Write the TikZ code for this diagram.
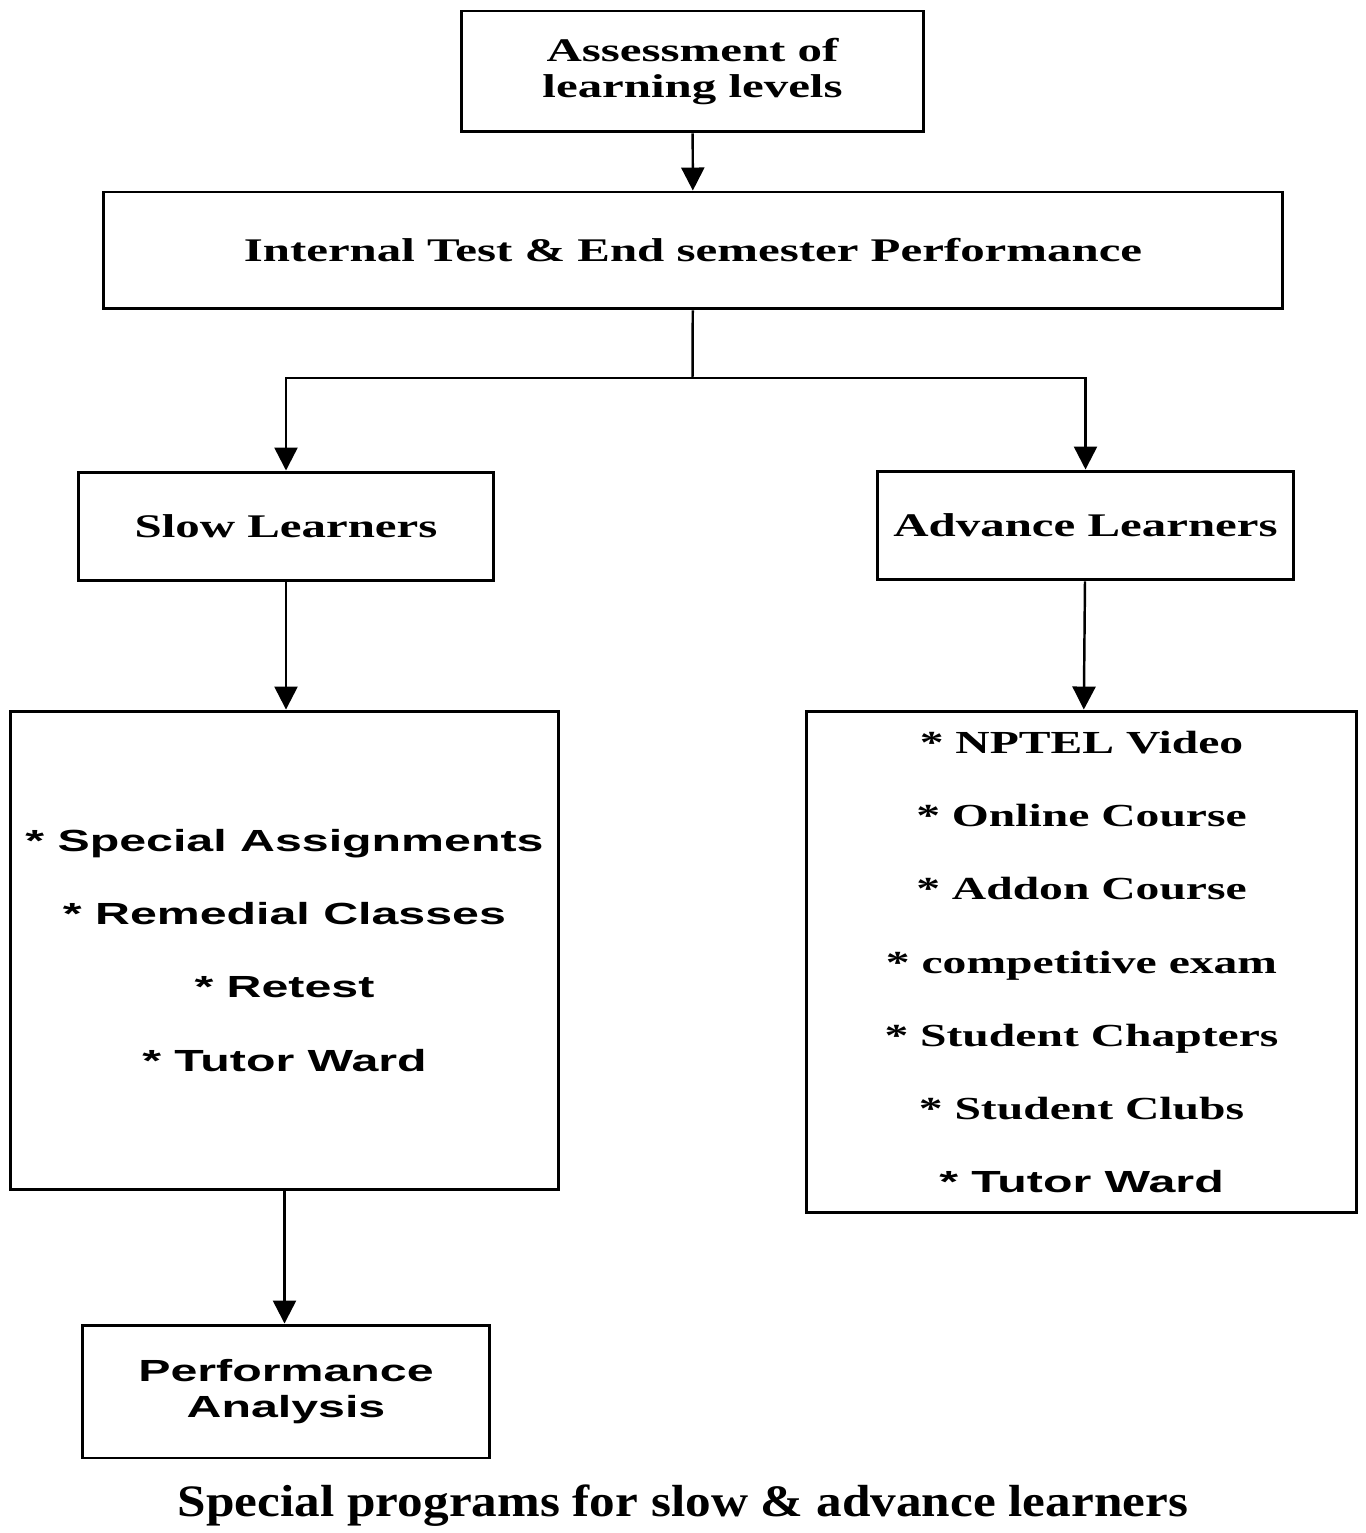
\documentclass[tikz,border=0pt]{standalone}
\usepackage{fontspec}
\usepackage{tikz}
\usetikzlibrary{positioning}
\usetikzlibrary{shapes, arrows.meta}
\newfontfamily\wideserif[FakeStretch=1.48]{Liberation Serif}
\newfontfamily\widesans[FakeStretch=1.58]{Liberation Sans}
\newfontfamily\capserif[FakeStretch=1.14]{Liberation Serif}

\begin{document}
\begin{tikzpicture}[x=0.02cm, y=-0.02cm]
    \tikzstyle{block} = [rectangle, draw, line width=1.7pt, inner sep=0pt,
    align=center, font=\wideserif\bfseries\fontsize{18.8}{20}\selectfont]
    \tikzstyle{listbox} = [block, font=\wideserif\bfseries\fontsize{18.8}{41.6}\selectfont]
    \tikzstyle{sansbox} = [block, font=\widesans\bfseries\fontsize{17.4}{41.6}\selectfont]
    \tikzstyle{line} = [draw, line width=1.4pt, -{Triangle[length=0.46cm, width=0.46cm]}]
    \useasboundingbox (0,0) rectangle (1365,1533);
    \node [block, minimum width=9.26cm, minimum height=2.42cm] (assess) at (692.5,71.5)
    {Assessment of\\learning levels};
    \node [block, minimum width=23.6cm, minimum height=2.34cm] (internal) at (693,250.5)
    {Internal Test \& End semester Performance};
    \node [block, minimum width=8.32cm, minimum height=2.18cm] (slow) at (286,526.5)
    {Slow Learners};
    \node [block, minimum width=8.34cm, minimum height=2.18cm] (advance) at (1085.5,525.5)
    {Advance Learners};
    \node [sansbox, minimum width=10.98cm, minimum height=9.58cm] (slowlist) at (284.5,950.5)
    {* Special Assignments\\* Remedial Classes\\* Retest\\* Tutor Ward};
    \node [listbox, font=\wideserif\bfseries\fontsize{18.3}{41.6}\selectfont,
    minimum width=11.02cm, minimum height=10.04cm] (advlist) at (1081.5,962)
    {* NPTEL Video\\* Online Course\\* Addon Course\\* competitive exam\\
    * Student Chapters\\* Student Clubs\\{\widesans\fontsize{17.4}{41.6}\selectfont * Tutor Ward}};
    \node [sansbox, font=\widesans\bfseries\fontsize{17.4}{20.5}\selectfont,
    minimum width=8.16cm, minimum height=2.66cm] (perf) at (286,1391.5)
    {Performance\\Analysis};
    \node [font=\capserif\bfseries\fontsize{25.6}{28}\selectfont] (caption) at (683,1506)
    {Special programs for slow \& advance learners};
    \coordinate (split) at (692.5,378);
    \path [line] (assess) -- (internal);
    \draw [line width=1.4pt] (internal) -- (split);
    \path [line] (split) -| (slow);
    \path [line] (split) -| (advance);
    \path [line] (slow) -- (slow |- slowlist.north);
    \path [line] (advance) -- (advlist);
    \path [line] (slowlist) -- (slowlist.south |- perf.north);
\end{tikzpicture}
\end{document}
